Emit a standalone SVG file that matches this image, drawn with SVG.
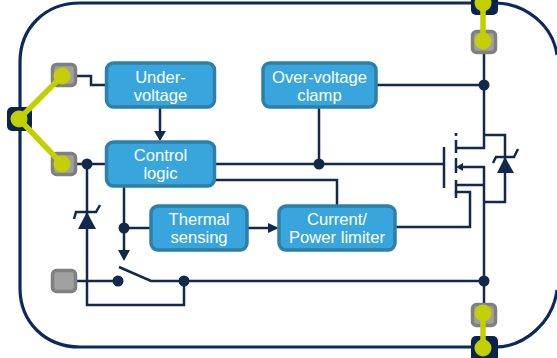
<svg xmlns="http://www.w3.org/2000/svg" width="557" height="358" viewBox="0 0 557 358">
<style>
.b{fill:#38a6dc;stroke:#2e7fa9;stroke-width:3.5}
.t{fill:#fff;font-family:"Liberation Sans",Arial,sans-serif;font-size:16.6px;text-anchor:middle}
.l{fill:none;stroke:#12294b;stroke-width:2.5}
.d{fill:#12294b}
.g{fill:#a0a0a0;stroke:#808080;stroke-width:3.5}
.k{fill:#0a2450}
.y{fill:#c3d000}
.w{stroke:#c3d000;stroke-width:5.5;fill:none}
</style>
<path id="frame" d="M557 55C553 25 525 3 495 3H80C45 3 20 28 20 62V288C20 322 45 347 80 347H495C525 347 553 322 557 290" fill="none" stroke="#0a2a5e" stroke-width="3.2"/>
<g id="connectors">
<path class="l" d="M77 76H91V85H106"/>
<path class="l" d="M77 164H106"/>
<path class="l" d="M160 108V133"/>
<path class="d" d="M154 131H166L160 141Z"/>
<path class="l" d="M215 164H444"/>
<path class="l" d="M319 108V164"/>
<path class="l" d="M377 85H484"/>
<path class="l" d="M484 53V148H456"/>
<path class="l" d="M215 180H337V205"/>
<path class="l" d="M124 187V252"/>
<path class="d" d="M118 250H130L124 261Z"/>
<path class="l" d="M124 228H150"/>
<path class="l" d="M247 228H270"/>
<path class="d" d="M268 223L279 228L268 233Z"/>
<path class="l" d="M395 227H470V192H456"/>
<path class="l" d="M87 164V305H184V281"/>
<path class="l" d="M77 281H118"/>
<path class="l" d="M119 267L151 281H484"/>
<path class="l" d="M484 303V167H462"/>
<path class="d" d="M456 167L463 163V171Z"/>
<path class="l" d="M456 185H484"/>
<path class="l" d="M484 135H505V202H484"/>
<path class="d" d="M505 157L514 173H497Z"/>
<path class="l" d="M493 163L496 157H514L518 149"/>
<path class="d" d="M87 212L96 229H78Z"/>
<path class="l" d="M74 219L76 212H96L100 205"/>
<path class="l" d="M444 147V188"/>
<path class="l" d="M456 133V136M456 140V153M456 158V173M456 180V193"/>
<path class="l" d="M456 191V198"/>
<circle class="d" cx="87" cy="164" r="5.500"/>
<circle class="d" cx="319" cy="164" r="5.500"/>
<circle class="d" cx="484" cy="85" r="5.500"/>
<circle class="d" cx="124" cy="228" r="5.500"/>
<circle class="d" cx="118" cy="281" r="5.500"/>
<circle class="d" cx="184" cy="281" r="5.500"/>
<circle class="d" cx="484" cy="281" r="5.500"/>
</g>
<g id="under-voltage"><rect class="b" x="106.500" y="63" width="108" height="44" rx="7"/><text class="t" x="160.500" y="83">Under-</text><text class="t" x="160.500" y="101">voltage</text></g>
<g id="over-voltage"><rect class="b" x="263" y="63" width="113" height="44" rx="7"/><text class="t" x="319.500" y="83">Over-voltage</text><text class="t" x="319.500" y="101">clamp</text></g>
<g id="control-logic"><rect class="b" x="106.500" y="142" width="108" height="44" rx="7"/><text class="t" x="160.500" y="161">Control</text><text class="t" x="160.500" y="179">logic</text></g>
<g id="thermal"><rect class="b" x="151" y="206" width="96" height="44" rx="7"/><text class="t" x="199" y="225">Thermal</text><text class="t" x="199" y="243">sensing</text></g>
<g id="current"><rect class="b" x="279" y="206" width="116" height="44" rx="7"/><text class="t" x="337" y="225">Current/</text><text class="t" x="337" y="243">Power limiter</text></g>
<g id="pin-left">
<rect class="k" x="7" y="107" width="25" height="24" rx="5"/>
<rect class="g" x="52.500" y="64.500" width="23" height="21" rx="4"/>
<rect class="g" x="52.500" y="153.500" width="23" height="21" rx="4"/>
<path class="w" d="M62 76L19 119L62 164"/>
<circle class="y" cx="19" cy="119" r="8.500"/><circle class="y" cx="62" cy="76" r="8.500"/><circle class="y" cx="62" cy="164" r="8.500"/>
</g>
<g id="pin-top">
<rect class="k" x="471" y="-8" width="27" height="23" rx="5"/>
<rect class="g" x="472.500" y="31.500" width="23" height="21" rx="4"/>
<path class="w" d="M483 2V41"/>
<circle class="y" cx="483" cy="3" r="8.500"/><circle class="y" cx="483" cy="41" r="8.500"/>
</g>
<g id="pin-gnd"><rect class="g" x="52.500" y="270.500" width="23" height="21" rx="4"/></g>
<g id="pin-bottom">
<rect class="k" x="471" y="336" width="27" height="26" rx="5"/>
<rect class="g" x="472.500" y="304.500" width="23" height="21" rx="4"/>
<path class="w" d="M483 315V348"/>
<circle class="y" cx="483" cy="313" r="8.500"/><circle class="y" cx="483" cy="348" r="8.500"/>
</g>
</svg>
